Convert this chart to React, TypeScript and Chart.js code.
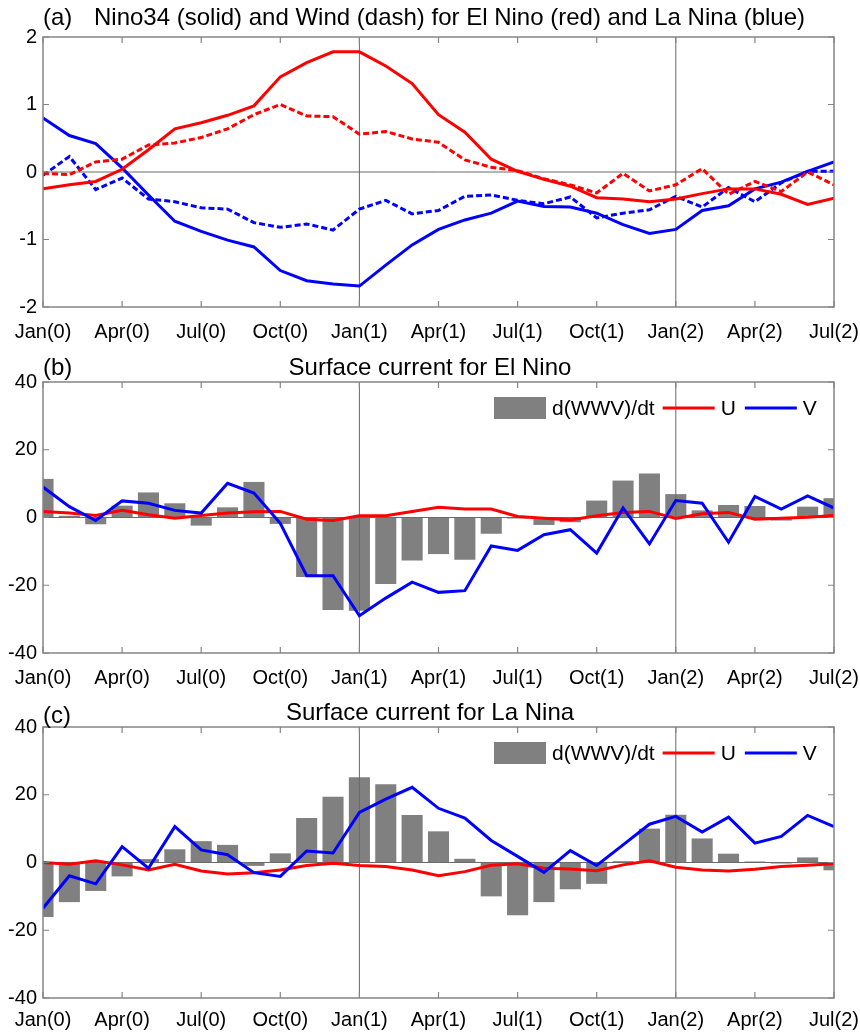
import React, { useEffect, useRef } from 'react';
import { Chart, registerables } from 'chart.js';

Chart.register(...registerables);

const FONT = '"Liberation Sans", Arial, Helvetica, sans-serif';

// x tick labels every 3 months
const tickLabels = ['Jan(0)', 'Apr(0)', 'Jul(0)', 'Oct(0)', 'Jan(1)', 'Apr(1)', 'Jul(1)', 'Oct(1)', 'Jan(2)', 'Apr(2)', 'Jul(2)'];
// reference vertical lines (month index)
const refMonths = [12, 24];

// Panel (a): Nino34 and wind
const ninoElNino = [-0.25, -0.19, -0.14, 0.04, 0.33, 0.64, 0.73, 0.84, 0.98, 1.41, 1.62, 1.78, 1.78, 1.57, 1.31, 0.85, 0.59, 0.19, 0.01, -0.11, -0.21, -0.38, -0.40, -0.44, -0.40, -0.32, -0.25, -0.25, -0.33, -0.48, -0.39];
const windElNino = [-0.02, -0.04, 0.15, 0.19, 0.40, 0.43, 0.51, 0.64, 0.85, 1.0, 0.83, 0.82, 0.56, 0.60, 0.49, 0.44, 0.18, 0.07, 0.02, -0.10, -0.19, -0.31, -0.02, -0.28, -0.19, 0.05, -0.33, -0.14, -0.29, 0.0, -0.19];
const ninoLaNina = [0.80, 0.54, 0.42, 0.06, -0.34, -0.73, -0.88, -1.01, -1.11, -1.46, -1.61, -1.66, -1.69, -1.38, -1.08, -0.85, -0.71, -0.61, -0.43, -0.51, -0.52, -0.61, -0.78, -0.91, -0.85, -0.57, -0.50, -0.25, -0.15, 0.01, 0.15];
const windLaNina = [-0.05, 0.23, -0.26, -0.09, -0.40, -0.44, -0.53, -0.55, -0.75, -0.82, -0.77, -0.86, -0.55, -0.42, -0.62, -0.57, -0.36, -0.34, -0.42, -0.47, -0.37, -0.68, -0.61, -0.56, -0.36, -0.52, -0.23, -0.44, -0.16, 0.01, 0.01];

// Panel (b): El Nino surface current
const wwvElNino = [11.4, 0.5, -2.0, 3.5, 7.4, 4.2, -2.4, 3.0, 10.5, -1.9, -17.6, -27.3, -27.5, -19.6, -12.7, -10.8, -12.5, -4.8, -0.3, -2.2, -1.4, 5.0, 10.9, 13.0, 6.9, 2.1, 3.7, 3.4, -0.9, 3.2, 5.7];
const uElNino = [1.8, 1.3, 0.6, 2.1, 0.8, -0.2, 0.6, 1.3, 1.7, 1.8, -0.5, -0.9, 0.5, 0.5, 1.8, 3.0, 2.5, 2.5, 0.3, -0.2, -0.7, 0.5, 1.5, 1.8, -0.3, 1.1, 1.5, -0.5, -0.2, 0.1, 0.6];
const vElNino = [9.0, 3.2, -0.9, 4.9, 4.2, 2.1, 1.3, 10.1, 7.2, -1.7, -17.2, -17.2, -29.0, -23.8, -19.1, -22.1, -21.6, -8.4, -9.7, -5.1, -3.6, -10.5, 2.8, -7.8, 5.0, 4.2, -7.3, 6.2, 2.5, 6.4, 2.8];

// Panel (c): La Nina surface current
const wwvLaNina = [-16.1, -11.7, -8.4, -4.1, 1.0, 3.9, 6.3, 5.2, -1.0, 2.7, 13.1, 19.4, 25.2, 23.1, 14.0, 9.2, 1.1, -10.0, -15.6, -11.7, -7.9, -6.3, 0.4, 10.0, 14.1, 7.1, 2.6, 0.3, -0.3, 1.5, -2.3];
const uLaNina = [0.0, -0.5, 0.5, -0.7, -2.2, -0.5, -2.5, -3.4, -3.0, -2.2, -0.9, -0.2, -0.9, -1.2, -2.2, -3.9, -2.7, -0.8, -0.4, -1.7, -1.9, -2.4, -0.7, 0.5, -1.4, -2.2, -2.5, -2.0, -1.2, -0.8, -0.4];
const vLaNina = [-13.5, -3.9, -6.3, 4.7, -1.7, 10.6, 3.7, 2.3, -3.0, -4.1, 3.4, 2.8, 14.8, 18.7, 22.2, 16.0, 13.1, 6.5, 1.8, -2.9, 3.5, -0.9, 5.2, 11.3, 13.6, 9.0, 13.4, 5.7, 7.7, 13.9, 10.6];

const RED = '#ff0000';
const BLUE = '#0000ff';
const GRAY = '#808080';

const toPoints = (vals: number[]) => vals.map((y, i) => ({ x: i, y }));

const lineDs = (label: string, vals: number[], color: string, dashed: boolean, order: number) => ({
  type: 'line' as const,
  label,
  data: toPoints(vals),
  borderColor: color,
  backgroundColor: color,
  borderWidth: 3,
  borderDash: dashed ? [6, 3] : [],
  pointRadius: 0,
  fill: false,
  tension: 0,
  order,
});

const barDs = (label: string, vals: number[]) => ({
  type: 'bar' as const,
  label,
  data: toPoints(vals),
  backgroundColor: GRAY,
  borderWidth: 0,
  barPercentage: 0.8,
  categoryPercentage: 1.0,
  order: 3,
});

interface PanelCfg {
  top: number;
  height: number;
  plotTop: number;
  plotBottom: number;
  xPad: number;
  yMin: number;
  yMax: number;
  yStep: number;
  tag: string;
  tagY: number;
  title: string;
  titleX: number;
  titleY: number;
  titleAlign: CanvasTextAlign;
  legend: boolean;
  refAfterBars: boolean;
  datasets: any[];
}

function drawRefLines(chart: any) {
  const { ctx, chartArea: a, scales } = chart;
  ctx.save();
  ctx.strokeStyle = '#6a6a6a';
  ctx.lineWidth = 1;
  ctx.beginPath();
  const y0 = scales.y.getPixelForValue(0);
  ctx.moveTo(a.left, y0);
  ctx.lineTo(a.right, y0);
  refMonths.forEach((m) => {
    const px = scales.x.getPixelForValue(m);
    ctx.moveTo(px, a.top);
    ctx.lineTo(px, a.bottom);
  });
  ctx.stroke();
  ctx.restore();
}

function drawFrame(chart: any) {
  const { ctx, chartArea: a, scales } = chart;
  ctx.save();
  ctx.strokeStyle = '#858585';
  ctx.lineWidth = 1.5;
  ctx.strokeRect(a.left, a.top, a.right - a.left, a.bottom - a.top);
  ctx.lineWidth = 1.2;
  ctx.beginPath();
  const tl = 6;
  scales.x.ticks.forEach((t: any) => {
    const px = scales.x.getPixelForValue(t.value);
    ctx.moveTo(px, a.bottom);
    ctx.lineTo(px, a.bottom - tl);
    ctx.moveTo(px, a.top);
    ctx.lineTo(px, a.top + tl);
  });
  scales.y.ticks.forEach((t: any) => {
    const py = scales.y.getPixelForValue(t.value);
    ctx.moveTo(a.left, py);
    ctx.lineTo(a.left + tl, py);
    ctx.moveTo(a.right, py);
    ctx.lineTo(a.right - tl, py);
  });
  ctx.stroke();
  ctx.restore();
}

function drawLegend(chart: any) {
  const { ctx, chartArea: a } = chart;
  const ds = chart.data.datasets;
  ctx.save();
  const y = a.top + 26;
  let x = a.left + 451;
  ctx.font = `21px ${FONT}`;
  ctx.textBaseline = 'middle';
  ctx.textAlign = 'left';
  ctx.fillStyle = ds[0].backgroundColor;
  ctx.fillRect(x, y - 11, 52, 22);
  x += 58;
  ctx.fillStyle = '#000';
  ctx.fillText(ds[0].label, x, y + 1);
  x += ctx.measureText(ds[0].label).width + 8;
  const gaps = [9, 0];
  for (let i = 1; i < ds.length; i++) {
    ctx.strokeStyle = ds[i].borderColor;
    ctx.lineWidth = 3;
    ctx.beginPath();
    ctx.moveTo(x, y);
    ctx.lineTo(x + 52, y);
    ctx.stroke();
    x += 52 + 6;
    ctx.fillStyle = '#000';
    ctx.fillText(ds[i].label, x, y + 1);
    x += ctx.measureText(ds[i].label).width + gaps[i - 1];
  }
  ctx.restore();
}

function makePlugin(cfg: PanelCfg) {
  return {
    id: 'panelDeco',
    beforeDatasetsDraw(chart: any) {
      if (!cfg.refAfterBars) drawRefLines(chart);
    },
    afterDatasetDraw(chart: any, args: any) {
      if (cfg.refAfterBars && args.index === 0) drawRefLines(chart);
    },
    afterDraw(chart: any) {
      drawFrame(chart);
      const { ctx } = chart;
      ctx.save();
      ctx.fillStyle = '#000';
      ctx.font = `24px ${FONT}`;
      ctx.textBaseline = 'middle';
      ctx.textAlign = 'left';
      ctx.fillText(cfg.tag, chart.chartArea.left, cfg.tagY);
      ctx.textAlign = cfg.titleAlign;
      ctx.fillText(cfg.title, cfg.titleX, cfg.titleY);
      ctx.restore();
      if (cfg.legend) drawLegend(chart);
    },
  };
}

function Panel({ cfg }: { cfg: PanelCfg }) {
  const ref = useRef<HTMLCanvasElement>(null);
  useEffect(() => {
    if (!ref.current) return;
    const chart = new Chart(ref.current, {
      type: 'line',
      data: { datasets: cfg.datasets },
      options: {
        responsive: false,
        animation: false,
        devicePixelRatio: 1,
        events: [],
        layout: { padding: { top: cfg.plotTop, right: 26, left: 0, bottom: 0 } },
        plugins: {
          legend: { display: false },
          tooltip: { enabled: false },
          title: { display: false },
        },
        scales: {
          x: {
            type: 'linear',
            min: 0,
            max: 30,
            offset: false,
            grid: { display: false, drawTicks: false },
            border: { display: false },
            ticks: {
              stepSize: 3,
              autoSkip: false,
              maxRotation: 0,
              minRotation: 0,
              padding: cfg.xPad,
              color: '#000',
              font: { size: 20, family: FONT },
              callback: (v: any) => tickLabels[Math.round(Number(v) / 3)] ?? '',
            },
            afterFit: (s: any) => {
              s.height = cfg.height - cfg.plotBottom;
              s.paddingLeft = 0;
              s.paddingRight = 0;
            },
          },
          y: {
            type: 'linear',
            min: cfg.yMin,
            max: cfg.yMax,
            grid: { display: false, drawTicks: false },
            border: { display: false },
            ticks: {
              stepSize: cfg.yStep,
              padding: 6,
              color: '#000',
              font: { size: 20, family: FONT },
            },
            afterFit: (s: any) => {
              s.width = 43;
              s.paddingTop = 0;
              s.paddingBottom = 0;
            },
          },
        },
      },
      plugins: [makePlugin(cfg)],
    } as any);
    return () => chart.destroy();
  }, []);
  return (
    <canvas
      ref={ref}
      width={860}
      height={cfg.height}
      style={{ position: 'absolute', left: 0, top: cfg.top, display: 'block', width: 860, height: cfg.height }}
    />
  );
}

const panels: PanelCfg[] = [
  {
    top: 0,
    height: 345,
    plotTop: 37,
    plotBottom: 307,
    xPad: 13,
    yMin: -2,
    yMax: 2,
    yStep: 1,
    tag: '(a)',
    tagY: 18,
    title: 'Nino34 (solid) and Wind (dash) for El Nino (red) and La Nina (blue)',
    titleX: 94,
    titleY: 18,
    titleAlign: 'left',
    legend: false,
    refAfterBars: false,
    datasets: [
      lineDs('Nino34 El Nino', ninoElNino, RED, false, 1),
      lineDs('Wind El Nino', windElNino, RED, true, 2),
      lineDs('Nino34 La Nina', ninoLaNina, BLUE, false, 3),
      lineDs('Wind La Nina', windLaNina, BLUE, true, 4),
    ],
  },
  {
    top: 340,
    height: 352,
    plotTop: 42,
    plotBottom: 313,
    xPad: 13,
    yMin: -40,
    yMax: 40,
    yStep: 20,
    tag: '(b)',
    tagY: 28,
    title: 'Surface current for El Nino',
    titleX: 430,
    titleY: 28,
    titleAlign: 'center',
    legend: true,
    refAfterBars: true,
    datasets: [
      barDs('d(WWV)/dt', wwvElNino),
      lineDs('U', uElNino, RED, false, 2),
      lineDs('V', vElNino, BLUE, false, 1),
    ],
  },
  {
    top: 680,
    height: 352,
    plotTop: 47,
    plotBottom: 318,
    xPad: 10,
    yMin: -40,
    yMax: 40,
    yStep: 20,
    tag: '(c)',
    tagY: 36,
    title: 'Surface current for La Nina',
    titleX: 430,
    titleY: 33,
    titleAlign: 'center',
    legend: true,
    refAfterBars: true,
    datasets: [
      barDs('d(WWV)/dt', wwvLaNina),
      lineDs('U', uLaNina, RED, false, 2),
      lineDs('V', vLaNina, BLUE, false, 1),
    ],
  },
];

export default function App() {
  useEffect(() => {
    document.body.style.margin = '0';
  }, []);
  return (
    <div style={{ position: 'relative', width: 860, height: 1032, background: '#fff', overflow: 'hidden' }}>
      {panels.map((p, i) => (
        <Panel key={i} cfg={p} />
      ))}
    </div>
  );
}
